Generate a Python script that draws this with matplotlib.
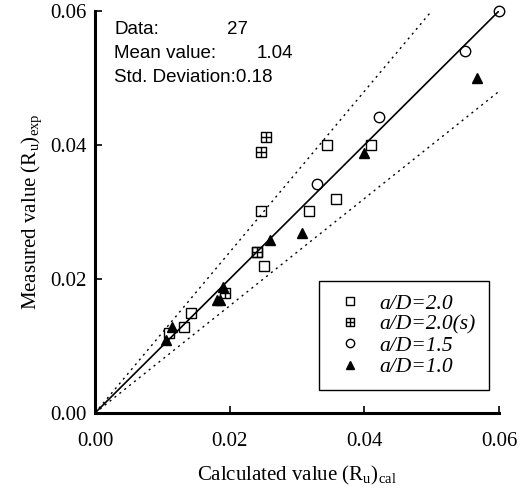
import numpy as np
import matplotlib.pyplot as plt
from matplotlib.path import Path

# data: (calculated, measured)
sq_x = [0.0345, 0.041, 0.0358, 0.0247, 0.0318, 0.0240, 0.0251, 0.0143, 0.0132, 0.0110]
sq_y = [0.0400, 0.040, 0.0320, 0.0301, 0.0301, 0.0240, 0.0219, 0.0149, 0.0128, 0.0119]
sqs_x = [0.0254, 0.0247, 0.0241, 0.0193]
sqs_y = [0.0412, 0.0390, 0.0241, 0.0179]
ci_x = [0.0600, 0.0550, 0.0422, 0.0330]
ci_y = [0.0600, 0.0540, 0.0442, 0.0342]
tr_x = [0.0567, 0.0400, 0.0308, 0.0260, 0.0190, 0.0181, 0.0186, 0.0114, 0.0106]
tr_y = [0.0500, 0.0388, 0.0269, 0.0258, 0.0188, 0.0169, 0.0169, 0.0128, 0.0109]

labels = ["a/D=2.0", "a/D=2.0(s)", "a/D=1.5", "a/D=1.0"]
stats = [("Data:", "27"), ("Mean value:", "1.04")]
std_text = "Std. Deviation:0.18"
ticks = [0.0, 0.02, 0.04, 0.06]

plt.rcParams['font.family'] = ['Liberation Serif', 'DejaVu Serif']
plt.rcParams['mathtext.fontset'] = 'custom'
plt.rcParams['mathtext.rm'] = 'Liberation Serif'

# square with a cross inside
verts = [(-1, -1), (1, -1), (1, 1), (-1, 1), (-1, -1),
         (0, -1), (0, 1), (-1, 0), (1, 0)]
codes = [Path.MOVETO, Path.LINETO, Path.LINETO, Path.LINETO, Path.CLOSEPOLY,
         Path.MOVETO, Path.LINETO, Path.MOVETO, Path.LINETO]
boxplus = Path(verts, codes)

fig = plt.figure(figsize=(5.24, 4.97), dpi=100)
ax = fig.add_axes([0.1813, 0.169, 0.771, 0.809])

ax.plot([0, 0.06], [0, 0.06], color='black', lw=1.2)
ax.plot([0, 0.05], [0, 0.06], color='black', lw=1.0, ls=(0, (1.5, 3)))
ax.plot([0, 0.06], [0, 0.048], color='black', lw=1.0, ls=(0, (1.5, 3)))

ax.plot(sq_x, sq_y, 's', ms=7.5, mfc='none', mec='black', mew=1.0, label=labels[0], clip_on=False)
ax.plot(sqs_x, sqs_y, marker=boxplus, ls='none', ms=7, mfc='none', mec='black', mew=1.0,
        label=labels[1], clip_on=False)
ax.plot(ci_x, ci_y, 'o', ms=7.5, mfc='none', mec='black', mew=1.0, label=labels[2], clip_on=False)
ax.plot(tr_x, tr_y, '^', ms=7, mfc='black', mec='black', label=labels[3], clip_on=False)

ax.set_xlim(0, 0.06)
ax.set_ylim(0, 0.06)
ax.set_xticks(ticks)
ax.set_yticks(ticks)
ax.set_xticklabels(["%.2f" % t for t in ticks])
ax.set_yticklabels(["%.2f" % t for t in ticks])
ax.tick_params(direction='in', length=5, width=1.2, labelsize=15, colors='black')
ax.tick_params(axis='x', pad=14)
ax.tick_params(axis='y', pad=6)
for s in ['top', 'right']:
    ax.spines[s].set_visible(False)
for s in ['left', 'bottom']:
    ax.spines[s].set_linewidth(2.2)

ax.set_xlabel(r"Calculated value (R$_\mathrm{u}$)$_\mathrm{cal}$", fontsize=15, labelpad=9)
ax.set_ylabel(r"Measured value (R$_\mathrm{u}$)$_\mathrm{exp}$", fontsize=15, labelpad=4)

sans = ['Liberation Sans', 'DejaVu Sans']
ax.text(114, 29, stats[0][0], transform=None, fontsize=13.5, family=sans, va='center')
ax.text(227, 29, stats[0][1], transform=None, fontsize=13.5, family=sans, va='center')
ax.text(114, 53, stats[1][0], transform=None, fontsize=13.5, family=sans, va='center')
ax.text(257, 53, stats[1][1], transform=None, fontsize=13.5, family=sans, va='center')
ax.text(114, 78, std_text, transform=None, fontsize=13.5, family=sans, va='center')
# convert pixel rows (from top) to figure coordinates
for t in ax.texts:
    x, y = t.get_position()
    t.set_transform(fig.transFigure)
    t.set_position((x / 524, 1 - y / 497))

leg = ax.legend(loc='lower right', bbox_to_anchor=(0.975, 0.057), frameon=True, fancybox=False,
                edgecolor='black', framealpha=1, borderpad=0.6, handletextpad=0.6,
                labelspacing=0.05, handlelength=1.6, borderaxespad=0,
                prop={'family': 'Liberation Serif', 'style': 'italic', 'size': 15.5})
leg.get_frame().set_linewidth(1.0)
for h in leg.legend_handles:
    h.set_markersize(6)

fig.savefig('out.png', dpi=100)
